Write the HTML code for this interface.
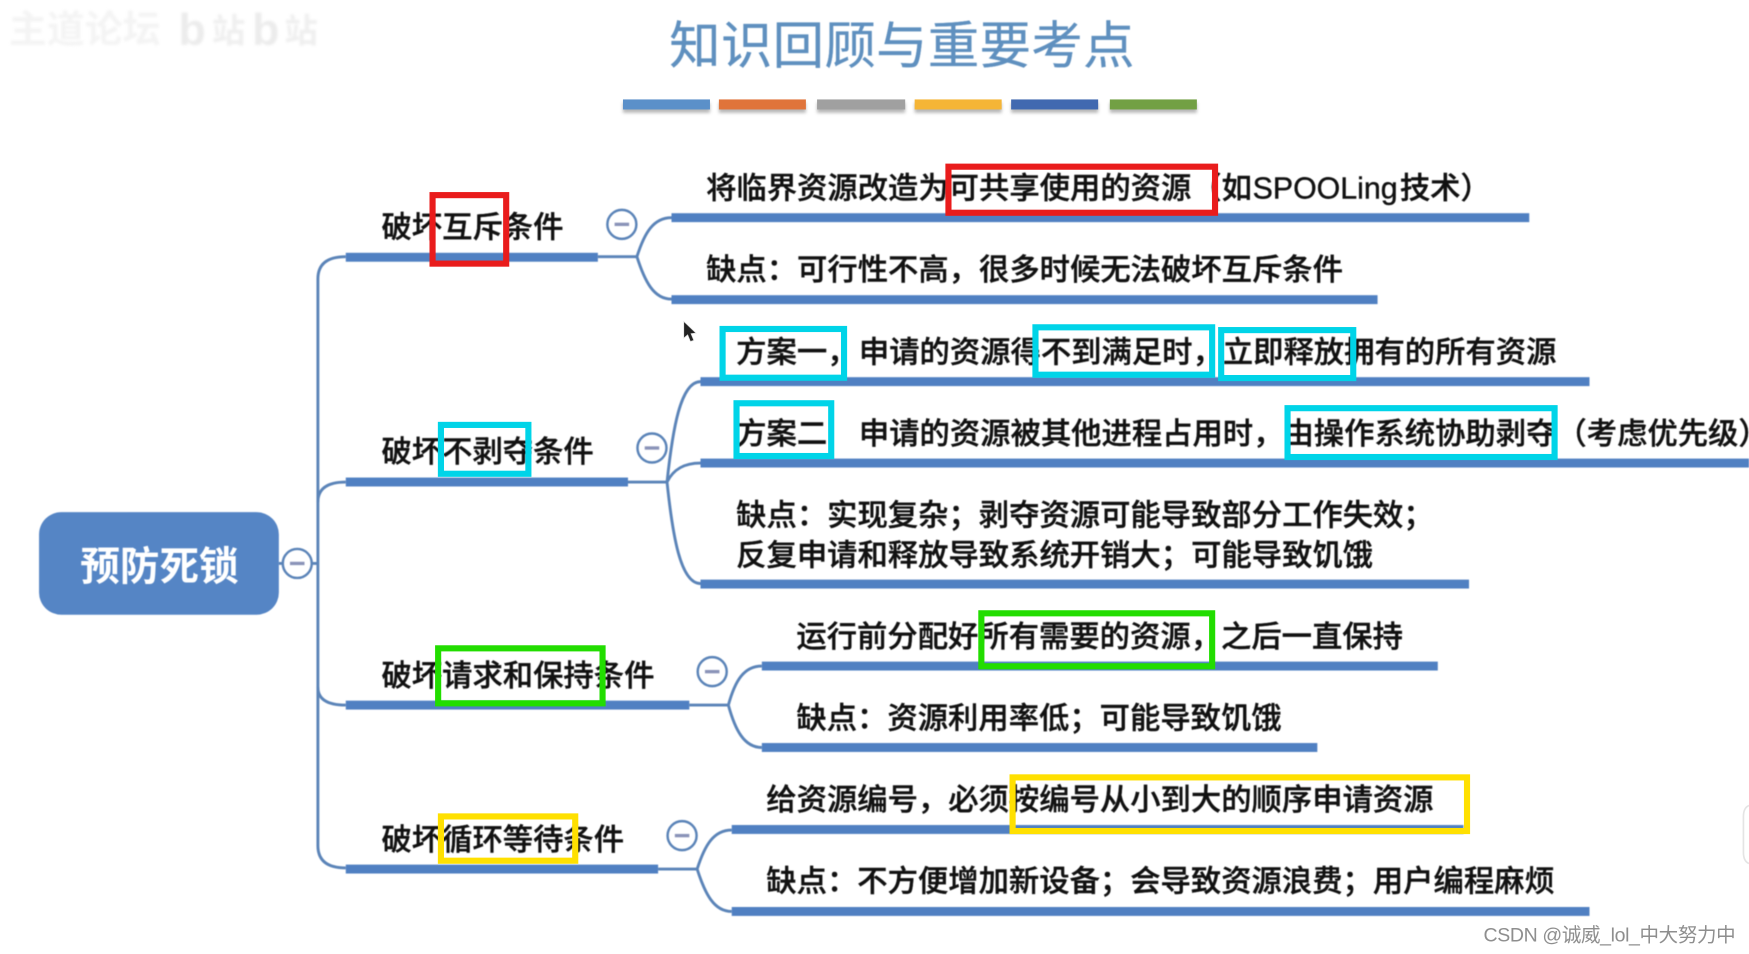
<!DOCTYPE html>
<html lang="zh-CN">
<head>
<meta charset="utf-8">
<title>知识回顾与重要考点</title>
<style>
html,body{margin:0;padding:0;background:#fff;width:1749px;height:954px;overflow:hidden}
svg{display:block}
text{font-family:"Liberation Sans","Noto Sans CJK SC",sans-serif;}
.t{font-size:27.2px;fill:#111;font-weight:500;stroke:#111;stroke-width:.35px}
.bar{fill:#5080c2}
.thin{fill:none;stroke:#5b84b8;stroke-width:2.6}
.c{fill:#fff;stroke:#5b84b8;stroke-width:2.2}
.m{stroke:#8a93b8;stroke-width:3}
.soft{filter:blur(.5px)}
.r{fill:none}
</style>
</head>
<body>
<svg xmlns="http://www.w3.org/2000/svg" width="1749" height="954" viewBox="0 0 1568 855">
<defs>
<filter id="sh" x="-10%" y="-50%" width="120%" height="250%"><feGaussianBlur stdDeviation="1.5"/></filter>
</defs>

<!-- top-left faded watermark -->
<g style="filter:blur(1.2px)">
<text x="8" y="38" style="font-size:34px;fill:#f4f4f4;font-weight:700">主道论坛</text>
<text x="160" y="40" style="font-size:40px;fill:#ececec;font-weight:700">b</text>
<text x="190" y="38" style="font-size:30px;fill:#efefef;font-weight:700">站</text>
<text x="226" y="40" style="font-size:40px;fill:#ececec;font-weight:700">b</text>
<text x="255" y="38" style="font-size:30px;fill:#efefef;font-weight:700">站</text>
</g>

<!-- title -->
<text class="soft" x="600" y="57" style="font-size:46px;fill:#5f90bf;stroke:#5f90bf;stroke-width:.3px" textLength="417">知识回顾与重要考点</text>

<!-- colour bars -->
<g filter="url(#sh)" fill="#999" opacity=".7">
<rect x="558.500" y="92" width="78" height="9"/><rect x="644.500" y="92" width="78" height="9"/>
<rect x="732.500" y="92" width="79" height="9"/><rect x="820" y="92" width="78" height="9"/>
<rect x="906.500" y="92" width="78" height="9"/><rect x="995" y="92" width="78" height="9"/>
</g>
<rect x="558.500" y="89" width="78" height="9" fill="#5b90c9"/>
<rect x="644.500" y="89" width="78" height="9" fill="#e0743a"/>
<rect x="732.500" y="89" width="79" height="9" fill="#a0a0a0"/>
<rect x="820" y="89" width="78" height="9" fill="#f5b536"/>
<rect x="906.500" y="89" width="78" height="9" fill="#4169b0"/>
<rect x="995" y="89" width="78" height="9" fill="#72a044"/>

<g class="soft">
<!-- trunk connectors -->
<path class="thin" d="M310 230 Q285 230 285 250 L285 758 Q285 778 310 778"/>
<path class="thin" d="M285 450 Q285 432 310 432"/>
<path class="thin" d="M285 616 Q285 632 310 632"/>
<path class="thin" d="M250 505 L285 505"/>

<!-- level 1 bars -->
<rect class="bar" x="310" y="226.500" width="226" height="8"/>
<rect class="bar" x="310" y="428" width="253" height="8"/>
<rect class="bar" x="310" y="628" width="308" height="8"/>
<rect class="bar" x="310" y="775" width="280" height="8"/>

<!-- bracket connectors -->
<path class="thin" d="M536 230 L571 230"/>
<path class="thin" d="M602 195 C586 195 578 208 571 230 C578 252 586 268 602 268"/>
<path class="thin" d="M563 432 L598 432"/>
<path class="thin" d="M628 342 C610 342 603 385 598 432 C603 480 610 523 628 523"/>
<path class="thin" d="M628 415 C614 415 604 420 598 432"/>
<path class="thin" d="M618 632 L653 632"/>
<path class="thin" d="M683 597 C667 597 659 610 653 632 C659 654 667 670 683 670"/>
<path class="thin" d="M590 779 L625 779"/>
<path class="thin" d="M656 744 C640 744 632 757 625 779 C632 801 640 817 656 817"/>

<!-- level 2 bars -->
<rect class="bar" x="602" y="191" width="769" height="8"/>
<rect class="bar" x="602" y="264.500" width="633" height="8"/>
<rect class="bar" x="628" y="338" width="797" height="8"/>
<rect class="bar" x="628" y="411" width="940" height="8"/>
<rect class="bar" x="628" y="519.500" width="689" height="8"/>
<rect class="bar" x="683" y="593" width="606" height="8"/>
<rect class="bar" x="683" y="666" width="498" height="8"/>
<rect class="bar" x="656" y="739.500" width="656" height="8"/>
<rect class="bar" x="656" y="813" width="769" height="8"/>

<!-- root -->
<rect x="35" y="459" width="215" height="92" rx="20" ry="20" fill="#5585c5"/>
<text x="72" y="520" style="font-size:35.500px;fill:#fff;font-weight:700">预防死锁</text>

<!-- collapse circles -->
<circle class="c" cx="266.500" cy="505" r="13"/><line class="m" x1="260" y1="505" x2="273" y2="505"/>
<circle class="c" cx="557.500" cy="201" r="13"/><line class="m" x1="551" y1="201" x2="564" y2="201"/>
<circle class="c" cx="584.500" cy="401.500" r="13"/><line class="m" x1="578" y1="401.500" x2="591" y2="401.500"/>
<circle class="c" cx="638.500" cy="602" r="13"/><line class="m" x1="632" y1="602" x2="645" y2="602"/>
<circle class="c" cx="611.500" cy="749" r="13"/><line class="m" x1="605" y1="749" x2="618" y2="749"/>

<!-- level 1 text -->
<text class="t" x="342" y="213">破坏互斥条件</text>
<text class="t" x="342" y="414">破坏不剥夺条件</text>
<text class="t" x="342" y="615">破坏请求和保持条件</text>
<text class="t" x="342" y="762">破坏循环等待条件</text>

<!-- level 2 text -->
<text class="t" x="633" y="178">将临界资源改造为可共享使用的资源（如</text>
<text class="t" x="1123" y="178" textLength="130" lengthAdjust="spacingAndGlyphs">SPOOLing</text>
<text class="t" x="1255" y="178">技术）</text>
<text class="t" x="633" y="251">缺点：可行性不高，很多时候无法破坏互斥条件</text>
<text class="t" x="660" y="325">方案一，</text>
<text class="t" x="770" y="325">申请的资源得不到满足时，立即释放拥有的所有资源</text>
<text class="t" x="660" y="398">方案二</text>
<text class="t" x="770" y="398">申请的资源被其他进程占用时，由操作系统协助剥夺（考虑优先级）</text>
<text class="t" x="660" y="471">缺点：实现复杂；剥夺资源可能导致部分工作失效；</text>
<text class="t" x="660" y="507">反复申请和释放导致系统开销大；可能导致饥饿</text>
<text class="t" x="714" y="580">运行前分配好所有需要的资源，之后一直保持</text>
<text class="t" x="714" y="653">缺点：资源利用率低；可能导致饥饿</text>
<text class="t" x="687" y="726">给资源编号，必须按编号从小到大的顺序申请资源</text>
<text class="t" x="687" y="799">缺点：不方便增加新设备；会导致资源浪费；用户编程麻烦</text>
</g>

<!-- highlight boxes -->
<g stroke-width="5.500" fill="none">
<rect x="387.800" y="174.800" width="66" height="61.400" stroke="#e91c1c"/>
<rect x="850.300" y="149.300" width="239" height="41.300" stroke="#e91c1c"/>
<rect x="395.300" y="380.800" width="78.400" height="43.800" stroke="#00d4e8"/>
<rect x="647.800" y="294.800" width="108.900" height="43.700" stroke="#00d4e8"/>
<rect x="660.300" y="361.400" width="84.900" height="47.300" stroke="#00d4e8"/>
<rect x="928.300" y="293.300" width="158.400" height="42.500" stroke="#00d4e8"/>
<rect x="1094.800" y="295.800" width="118.400" height="43" stroke="#00d4e8"/>
<rect x="1154.300" y="365.800" width="239.400" height="43.800" stroke="#00d4e8"/>
<rect x="392.800" y="581.100" width="147.400" height="49.300" stroke="#22dd00"/>
<rect x="879.800" y="549.700" width="206.900" height="47.500" stroke="#22dd00"/>
<rect x="395.300" y="731.800" width="120.400" height="39.700" stroke="#ffe000"/>
<rect x="907.800" y="696.800" width="407.400" height="48.100" stroke="#ffe000"/>
</g>

<!-- cursor -->
<path d="M613 288 L613 303 L616.500 300 L619 306 L622 305 L619.500 299 L624 298.500 Z" fill="#222" stroke="#ddd" stroke-width=".6"/>

<!-- right edge fragment -->
<path d="M1568 722 Q1563 724 1563 732 L1563 764 Q1563 772 1568 774" fill="#fff" stroke="#e4e4e4" stroke-width="1.500"/>

<!-- csdn watermark -->
<text x="1330" y="844" textLength="226" style="font-size:17.500px;fill:#8e8e8e">CSDN @诚威_lol_中大努力中</text>
</svg>
</body>
</html>
